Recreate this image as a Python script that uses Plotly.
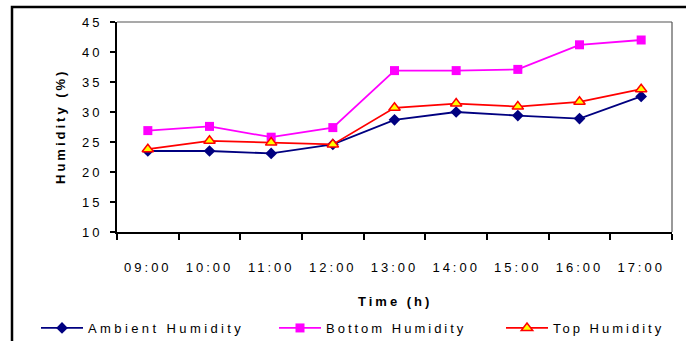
import plotly.graph_objects as go

times = ["09:00", "10:00", "11:00", "12:00", "13:00", "14:00", "15:00", "16:00", "17:00"]
ambient = [23.5, 23.5, 23.1, 24.6, 28.7, 30.0, 29.4, 28.9, 32.6]
bottom = [26.9, 27.6, 25.8, 27.4, 36.9, 36.9, 37.1, 41.2, 42.0]
top = [23.8, 25.2, 24.9, 24.6, 30.7, 31.4, 30.9, 31.7, 33.8]

FONT = "Liberation Sans, Arial, sans-serif"

# plotting-area geometry in pixels, used to place items in paper coordinates
L, R, T, B = 117, 672, 22, 232
W, H = R - L, B - T


def px_x(px):
    return (px - L) / W


def px_y(py):
    return (B - py) / H


fig = go.Figure()
fig.add_trace(go.Scatter(
    x=times, y=ambient, name="Ambient Humidity", mode="lines+markers",
    line=dict(color="#000080", width=1.8),
    marker=dict(symbol="diamond", size=9, color="#000080"),
    legend="legend",
))
fig.add_trace(go.Scatter(
    x=times, y=bottom, name="Bottom Humidity", mode="lines+markers",
    line=dict(color="#FF00FF", width=1.8),
    marker=dict(symbol="square", size=9, color="#FF00FF"),
    legend="legend2",
))
fig.add_trace(go.Scatter(
    x=times, y=top, name="Top Humidity", mode="lines+markers",
    line=dict(color="#FF0000", width=1.8),
    marker=dict(symbol="triangle-up", size=10, color="#FFFF00",
                line=dict(color="#FF0000", width=1.5)),
    legend="legend3",
))


def legend_at(px, width):
    return dict(
        orientation="h", x=px_x(px), y=px_y(328), xanchor="left", yanchor="middle",
        itemwidth=42, entrywidth=width, entrywidthmode="pixels",
        font=dict(size=13), bgcolor="rgba(0,0,0,0)",
    )


fig.update_layout(
    width=686, height=341,
    margin=dict(l=L, r=686 - R, t=T, b=341 - B, autoexpand=False),
    paper_bgcolor="white", plot_bgcolor="white",
    font=dict(family=FONT, size=13, color="black"),
    showlegend=True,
    legend=legend_at(36, 200),
    legend2=legend_at(274, 200),
    legend3=legend_at(501, 160),
    xaxis=dict(
        type="category", range=[-0.5, 8.5],
        showline=True, linecolor="black", linewidth=2,
        ticks="outside", tickson="boundaries", ticklen=6, tickcolor="black", tickwidth=1.5,
        ticklabelstandoff=22, showgrid=False, zeroline=False,
        tickfont=dict(size=13),
    ),
    yaxis=dict(
        range=[10, 45], dtick=5, tick0=10,
        showline=True, linecolor="black", linewidth=2,
        ticks="outside", ticklen=5, tickcolor="black", tickwidth=1.5,
        ticklabelstandoff=5, showgrid=False, zeroline=False,
        tickfont=dict(size=13),
    ),
    annotations=[
        dict(text="<b>Humidity (%)</b>", xref="paper", yref="paper",
             x=px_x(60), y=0.5, showarrow=False, textangle=-90,
             xanchor="center", yanchor="middle", font=dict(size=13)),
        dict(text="<b>Time (h)</b>", xref="paper", yref="paper",
             x=0.5, y=px_y(301), showarrow=False,
             xanchor="center", yanchor="middle", font=dict(size=13)),
    ],
    shapes=[
        # thin grey frame on the top and right of the plotting area
        dict(type="line", xref="paper", yref="paper", x0=0, x1=1, y0=1, y1=1,
             line=dict(color="#555555", width=1.2)),
        dict(type="line", xref="paper", yref="paper", x0=1, x1=1, y0=0, y1=1,
             line=dict(color="#555555", width=1.2)),
        # outer chart border
        dict(type="rect", xref="paper", yref="paper",
             x0=px_x(12), x1=1.2, y0=-0.8, y1=px_y(7),
             line=dict(color="black", width=2.5), layer="below"),
    ],
)

# widen the lettering and let the legend labels run past their clip boxes
spacing_js = """
var gd = document.getElementsByClassName('plotly-graph-div')[0];
gd.querySelectorAll('text').forEach(function(t){ t.style.letterSpacing = '3px'; });
gd.querySelectorAll('.legend text').forEach(function(t){ t.style.letterSpacing = '3.4px'; });
gd.querySelectorAll('.legend, .legend *').forEach(function(el){ el.removeAttribute('clip-path'); });
"""

fig.write_html("out.html", post_script=spacing_js)
